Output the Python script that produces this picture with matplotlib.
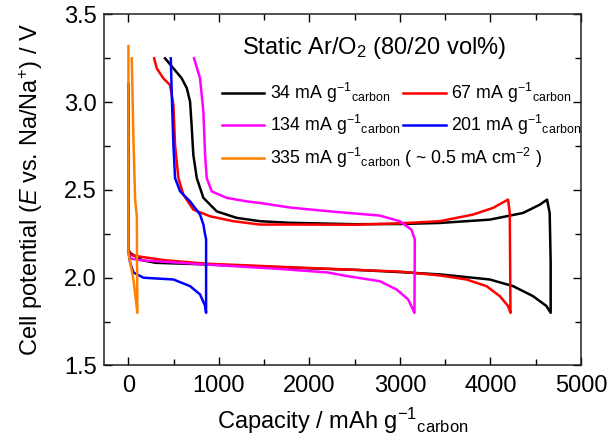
import matplotlib
matplotlib.use("Agg")
import matplotlib.pyplot as plt
from matplotlib.lines import Line2D

# === 폰트 ===
plt.rcParams["font.family"] = "Liberation Sans"
plt.rcParams["mathtext.fontset"] = "custom"
plt.rcParams["mathtext.rm"] = "Liberation Sans"
plt.rcParams["mathtext.it"] = "Liberation Sans:italic"
plt.rcParams["mathtext.bf"] = "Liberation Sans:bold"

# === 데이터 (그림에서 읽은 값, 방전 -> 충전 순서) ===
cap_34 = [0, 0, 20, 150, 300, 900, 1800, 2500, 3000, 3440, 3992, 4250, 4470, 4618, 4665,
          4665, 4654, 4625, 4544, 4360, 3992, 3440, 3000, 2500, 1784, 1454, 1196, 976, 828,
          755, 717, 700, 681, 645, 589, 497, 405]
volt_34 = [3.1, 2.16, 2.14, 2.10, 2.085, 2.075, 2.057, 2.045, 2.032, 2.019, 1.99, 1.952, 1.895, 1.839, 1.80,
           2.085, 2.369, 2.445, 2.416, 2.369, 2.331, 2.312, 2.306, 2.305, 2.313, 2.322, 2.341, 2.378, 2.455,
           2.568, 2.70, 2.852, 3.003, 3.08, 3.136, 3.193, 3.25]

cap_67 = [0, 0, 20, 129, 400, 865, 1784, 2500, 3000, 3440, 3735, 3956, 4103, 4194, 4221,
          4213, 4194, 4029, 3808, 3440, 3000, 2500, 1784, 1454, 1159, 902, 717, 607, 552, 515,
          497, 460, 386, 313, 284]
volt_67 = [3.1, 2.16, 2.13, 2.12, 2.10, 2.08, 2.06, 2.045, 2.035, 2.013, 1.99, 1.952, 1.895, 1.839, 1.80,
           2.369, 2.445, 2.398, 2.36, 2.322, 2.31, 2.302, 2.303, 2.303, 2.322, 2.35, 2.388, 2.473, 2.568, 2.757,
           2.985, 3.098, 3.136, 3.193, 3.25]

cap_134 = [0, 0, 20, 129, 865, 1674, 2200, 2410, 2778, 2962, 3090, 3160,
           3164, 3127, 2998, 2778, 2226, 1784, 1454, 1307, 1086, 920, 865, 847, 828, 791, 725]
volt_134 = [3.1, 2.15, 2.11, 2.10, 2.075, 2.05, 2.03, 2.01, 1.98, 1.933, 1.877, 1.80,
            2.218, 2.274, 2.322, 2.354, 2.378, 2.40, 2.426, 2.435, 2.455, 2.492, 2.568, 2.70, 2.947, 3.136, 3.25]

cap_201 = [0, 0, 19, 55, 166, 497, 681, 791, 847, 858,
           858, 847, 828, 791, 681, 571, 515, 497, 479, 468]
volt_201 = [3.1, 2.15, 2.085, 2.03, 2.0, 1.99, 1.952, 1.905, 1.84, 1.80,
            2.22, 2.246, 2.303, 2.36, 2.435, 2.492, 2.568, 2.757, 3.04, 3.25]

cap_335 = [0, 0, 55, 99, 95, 93, 74, 55, 37]
volt_335 = [3.32, 2.14, 1.99, 1.80, 2.1, 2.35, 2.445, 2.8, 3.25]

series = [
    (cap_34, volt_34, "black", "34 mA g$^{-1}$$_{\\mathrm{carbon}}$"),
    (cap_67, volt_67, "#ff0000", "67 mA g$^{-1}$$_{\\mathrm{carbon}}$"),
    (cap_134, volt_134, "#ff00ff", "134 mA g$^{-1}$$_{\\mathrm{carbon}}$"),
    (cap_201, volt_201, "#0000ff", "201 mA g$^{-1}$$_{\\mathrm{carbon}}$"),
    (cap_335, volt_335, "#ff8000", "335 mA g$^{-1}$$_{\\mathrm{carbon}}$ ( ~ 0.5 mA cm$^{-2}$ )"),
]

fig = plt.figure(figsize=(6.11, 4.45), dpi=100)
ax = fig.add_axes([0.1702, 0.1787, 0.7807, 0.7888])

handles = []
for x, y, c, lab in series:
    ax.plot(x, y, color=c, lw=1.8, solid_joinstyle="round")
    handles.append(Line2D([], [], color=c, lw=1.8, label=lab))

ax.set_xlim(-270, 5000)
ax.set_ylim(1.5, 3.5)
ax.set_xticks([0, 1000, 2000, 3000, 4000, 5000])
ax.set_xticks(range(500, 5000, 1000), minor=True)
ax.set_yticks([1.5, 2.0, 2.5, 3.0, 3.5])
ax.set_yticks([1.75, 2.25, 2.75, 3.25], minor=True)
ax.tick_params(which="both", direction="in", top=True, right=True, labelsize=17, width=1.0)
ax.tick_params(which="major", length=6)
ax.tick_params(which="minor", length=4)
ax.tick_params(axis="x", pad=7)
ax.tick_params(axis="y", pad=5)
for sp in ax.spines.values():
    sp.set_linewidth(1.1)
    sp.set_color("#222222")

ax.set_xlabel("Capacity / mAh g$^{-1}$$_{\\mathrm{carbon}}$", fontsize=17, labelpad=6)
ax.set_ylabel("Cell potential ($E$ vs. Na/Na$^{+}$) / V", fontsize=17, labelpad=14)

# === 범례 ===
ax.text(0.5656, 0.905, "Static Ar/O$_2$ (80/20 vol%)", transform=ax.transAxes,
        ha="center", va="center", fontsize=17)
leg1 = ax.legend([handles[0], handles[2], handles[1], handles[3]],
                 [series[0][3], series[2][3], series[1][3], series[3][3]],
                 ncol=2, loc="upper left", bbox_to_anchor=(0.2468, 0.81), frameon=False,
                 fontsize=12.8, handlelength=2.4, handletextpad=0.3, columnspacing=0.2,
                 labelspacing=0.45, borderpad=0, borderaxespad=0)
ax.add_artist(leg1)
ax.legend([handles[4]], [series[4][3]], loc="upper left", bbox_to_anchor=(0.2468, 0.625),
          frameon=False, fontsize=12.8, handlelength=2.4, handletextpad=0.3,
          borderpad=0, borderaxespad=0)

plt.savefig("out.png", dpi=100)
